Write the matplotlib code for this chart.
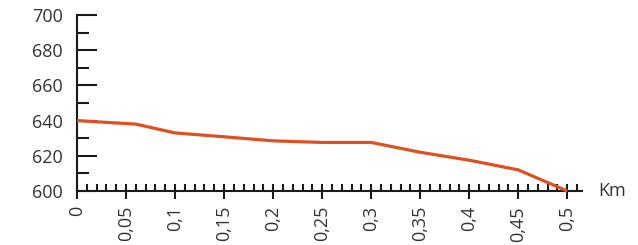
import numpy as np
import matplotlib.pyplot as plt
from matplotlib.ticker import MultipleLocator

# profil d'altitude
dist_km = [0, 0.06, 0.1, 0.15, 0.2, 0.25, 0.3, 0.35, 0.4, 0.45, 0.5]
altitude = [640, 638, 633, 630.8, 628.5, 627.6, 627.6, 622, 617.5, 612, 600]
x_ticks = [0, 0.05, 0.1, 0.15, 0.2, 0.25, 0.3, 0.35, 0.4, 0.45, 0.5]
x_labels = ['0', '0,05', '0,1', '0,15', '0,2', '0,25', '0,3', '0,35', '0,4', '0,45', '0,5']
y_ticks = [600, 620, 640, 660, 680, 700]

plt.rcParams['font.family'] = ['Open Sans', 'DejaVu Sans']
txt = '#333333'
ink = '#1a1a1a'

fig = plt.figure(figsize=(6.38, 2.45), dpi=100)
ax = fig.add_axes([77/638, 54/245, (582-77)/638, 176/245])

ax.plot(dist_km, altitude, color='#de5020', lw=2.3, solid_joinstyle='round',
        solid_capstyle='butt', clip_on=False, zorder=3)

ax.set_xlim(0, 0.515)
ax.set_ylim(600, 700)

for s in ['top', 'right']:
    ax.spines[s].set_visible(False)
for s in ['left', 'bottom']:
    ax.spines[s].set_linewidth(1.5)
    ax.spines[s].set_color(ink)

ax.set_yticks(y_ticks)
ax.yaxis.set_minor_locator(MultipleLocator(10))
ax.tick_params(axis='y', which='major', direction='in', length=14.4, width=1.5,
               color=ink, pad=10, labelsize=13, labelcolor=txt)
ax.tick_params(axis='y', which='minor', direction='in', length=8.6, width=1.5, color=ink)

ax.set_xticks(x_ticks)
ax.set_xticklabels(x_labels, rotation=90, va='top')
ax.xaxis.set_minor_locator(MultipleLocator(0.01))
ax.xaxis.remove_overlapping_locs = False
ax.tick_params(axis='x', which='major', direction='out', length=5.8, width=1.5,
               color=ink, pad=5, labelsize=13, labelcolor=txt)
ax.tick_params(axis='x', which='minor', direction='in', length=5, width=1.5, color=ink)

fig.text(598/638, 1 - 191/245, 'Km', fontsize=13, color=txt, va='center', ha='left')

fig.savefig('out.png', dpi=100)
